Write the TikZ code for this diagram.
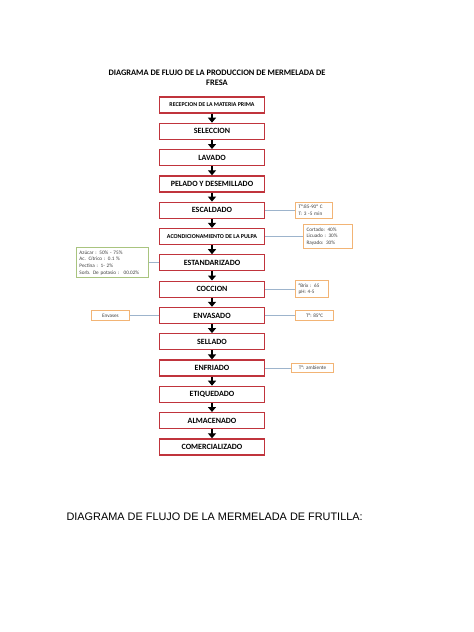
\documentclass[tikz,border=0pt]{standalone}
\usepackage{fontspec}
\setmainfont{Carlito}
\newfontfamily\arialfont{Liberation Sans}
\usetikzlibrary{arrows.meta, positioning}
\definecolor{boxred}{HTML}{C0343C}
\definecolor{notetan}{HTML}{F2B475}
\definecolor{notegreen}{HTML}{A9C47F}
\definecolor{linkblue}{HTML}{9DB4CC}
\tikzset{
  pbox/.style={rectangle, draw=boxred, line width=1.2pt, fill=white,
               minimum width=105pt, minimum height=16pt, inner sep=1pt,
               align=center, font=\fontsize{8}{9}\selectfont\bfseries},
  nbox/.style={rectangle, draw=#1, line width=0.9pt, fill=white,
               inner sep=3pt, align=left, text=black!75,
               font=\fontsize{5.2}{6.6}\selectfont},
  nbox/.default=notetan,
  arr/.style={-{Triangle[width=8pt,length=5pt]}, line width=2.4pt, black},
  link/.style={draw=linkblue, line width=0.8pt},
}

\begin{document}
\begin{tikzpicture}[x=1pt, y=1pt, node distance=9.1pt]
  \useasboundingbox (0,0) rectangle (474,-632);

  \node[font=\fontsize{8.4}{10}\selectfont\bfseries, align=center] (titulo) at (217,-78)
    {DIAGRAMA DE FLUJO DE LA PRODUCCION DE MERMELADA DE\\FRESA};

  \node[pbox, font=\fontsize{5.9}{7}\selectfont\bfseries] (recep) at (212,-105) {RECEPCION DE LA MATERIA PRIMA};
  \node[pbox, below=of recep] (selec) {SELECCION};
  \node[pbox, below=of selec] (lavado) {LAVADO};
  \node[pbox, below=of lavado] (pelado) {PELADO Y DESEMILLADO};
  \node[pbox, below=of pelado] (escal) {ESCALDADO};
  \node[pbox, below=of escal, font=\fontsize{6}{7}\selectfont\bfseries] (acond) {ACONDICIONAMIENTO DE LA PULPA};
  \node[pbox, below=of acond] (estand) {ESTANDARIZADO};
  \node[pbox, below=of estand] (coccion) {COCCION};
  \node[pbox, below=of coccion] (envas) {ENVASADO};
  \node[pbox, below=of envas] (sellado) {SELLADO};
  \node[pbox, below=of sellado] (enfri) {ENFRIADO};
  \node[pbox, below=of enfri] (etiq) {ETIQUEDADO};
  \node[pbox, below=of etiq] (almac) {ALMACENADO};
  \node[pbox, below=of almac] (comerc) {COMERCIALIZADO};

  \draw[arr] (recep) -- (selec);
  \draw[arr] (selec) -- (lavado);
  \draw[arr] (lavado) -- (pelado);
  \draw[arr] (pelado) -- (escal);
  \draw[arr] (escal) -- (acond);
  \draw[arr] (acond) -- (estand);
  \draw[arr] (estand) -- (coccion);
  \draw[arr] (coccion) -- (envas);
  \draw[arr] (envas) -- (sellado);
  \draw[arr] (sellado) -- (enfri);
  \draw[arr] (enfri) -- (etiq);
  \draw[arr] (etiq) -- (almac);
  \draw[arr] (almac) -- (comerc);

  \node[nbox, text width=31pt, right=30pt of escal] (notaescal) {T°:85-90° C\\T: 3 -5 min};
  \node[nbox, text width=43pt, right=38pt of acond] (notaacond) {Cortado: 40\%\\Licuado : 30\%\\Rayado: 30\%};
  \node[nbox=notegreen, text width=66pt, left=10pt of estand] (notaestand)
    {Azúcar : 50\% - 75\%\\Ac. Cítrico : 0.1 \%\\Pectina : 1- 2\%\\Sorb. De potasio : \ 00.02\%};
  \node[nbox, text width=27pt, right=30pt of coccion] (notacoccion) {°Brix : 65\\pH: 4-5};
  \node[nbox, minimum width=38pt, align=center, left=29pt of envas] (envases) {Envases};
  \node[nbox, minimum width=38pt, align=center, right=30pt of envas] (notaenvas) {T°: 85°C};
  \node[nbox, minimum width=42pt, align=center, right=26pt of enfri] (notaenfri) {T°: ambiente};

  \draw[link] (escal) -- (notaescal);
  \draw[link] (acond) -- (notaacond);
  \draw[link] (notaestand) -- (estand);
  \draw[link] (coccion) -- (notacoccion);
  \draw[link] (envases) -- (envas);
  \draw[link] (envas) -- (notaenvas);
  \draw[link] (enfri) -- (notaenfri);

  \node[anchor=west, font=\arialfont\fontsize{10.9}{12}\selectfont] (subtitulo) at (63,-517)
    {DIAGRAMA DE FLUJO DE LA MERMELADA DE FRUTILLA:};
\end{tikzpicture}
\end{document}
